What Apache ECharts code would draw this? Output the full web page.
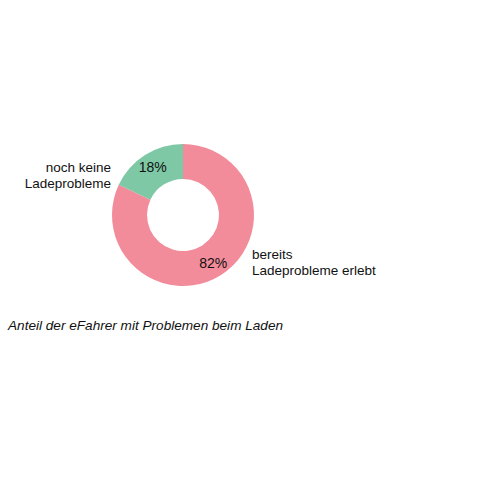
<!DOCTYPE html>
<html>
<head>
<meta charset="utf-8">
<script src="https://cdn.jsdelivr.net/npm/echarts@6/dist/echarts.min.js"></script>
<style>
  html, body { margin: 0; padding: 0; background: #fff; }
  #chart { width: 480px; height: 480px; }
</style>
</head>
<body>
<div id="chart"></div>
<script>
// data
var categories = ['bereits\nLadeprobleme erlebt', 'noch keine\nLadeprobleme'];
var shares = [82, 18];
var colors = ['#f28c9a', '#7ec8a6'];
var caption = 'Anteil der eFahrer mit Problemen beim Laden';

var chart = echarts.init(document.getElementById('chart'), null, { renderer: 'svg' });

var pieData = categories.map(function (name, i) {
    return { name: name, value: shares[i], itemStyle: { color: colors[i] } };
});

var option = {
    backgroundColor: '#fff',
    animation: false,
    series: [
        {
            type: 'pie',
            center: [183, 215],
            radius: [36, 71],
            startAngle: 90,
            clockwise: true,
            data: pieData,
            label: {
                position: 'inside',
                formatter: '{c}%',
                color: '#111',
                fontSize: 14,
                fontFamily: 'Liberation Sans, Arial, sans-serif'
            },
            labelLine: { show: false },
            emphasis: { disabled: true }
        }
    ],
    graphic: [
        {
            // label for the small slice, right-aligned left of the ring
            type: 'text',
            x: 111,
            y: 159,
            style: {
                text: categories[1],
                align: 'right',
                verticalAlign: 'top',
                fill: '#111',
                font: '13.5px "Liberation Sans", Arial, sans-serif',
                lineHeight: 16.5
            }
        },
        {
            // label for the big slice, to the right
            type: 'text',
            x: 252,
            y: 246,
            style: {
                text: categories[0],
                align: 'left',
                verticalAlign: 'top',
                fill: '#111',
                font: '13.5px "Liberation Sans", Arial, sans-serif',
                lineHeight: 16.5
            }
        },
        {
            type: 'text',
            x: 8,
            y: 318,
            style: {
                text: caption,
                verticalAlign: 'top',
                fill: '#111',
                font: 'italic 13.6px "Liberation Sans", Arial, sans-serif'
            }
        }
    ]
};

option && chart.setOption(option);
</script>
</body>
</html>
